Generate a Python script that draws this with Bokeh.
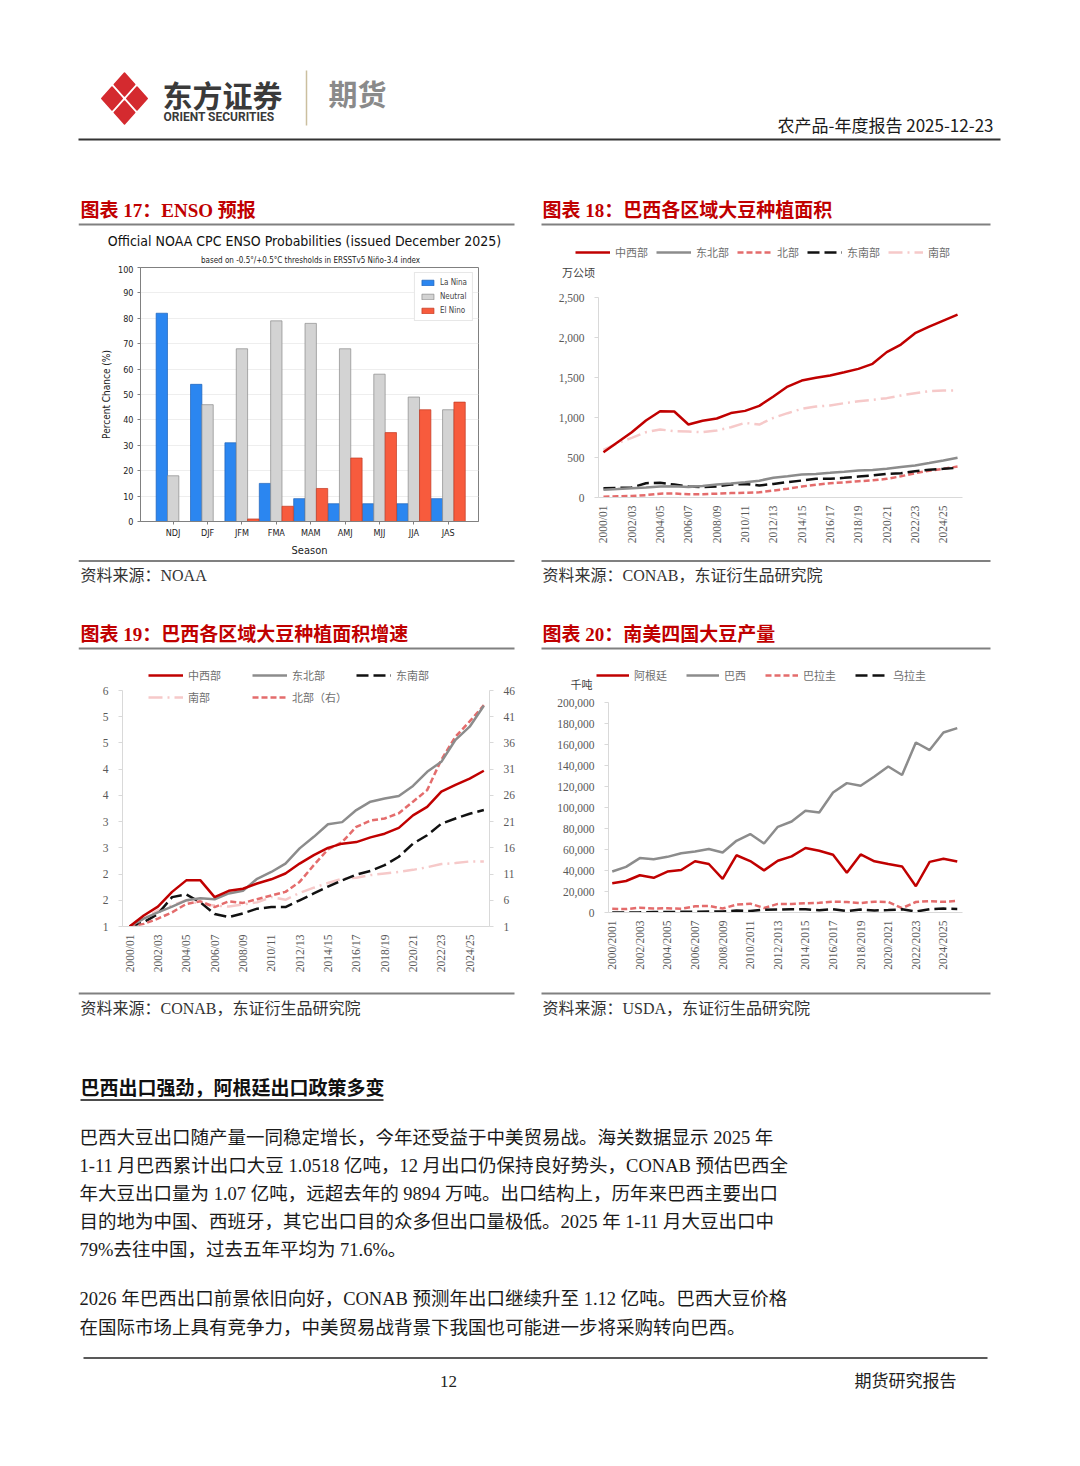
import math
import numpy as np
from bokeh.plotting import figure
from bokeh.models import (Range1d, FixedTicker, SingleIntervalTicker, NumeralTickFormatter,
                          Legend, LegendItem, LinearAxis, Spacer, ColumnDataSource)
from bokeh.layouts import column, row
from bokeh.core.properties import value
from bokeh.transform import dodge
from bokeh.embed import file_html
from bokeh.resources import INLINE

# ---------------- data ----------------
# Chart 17: ENSO probabilities
seasons = ["NDJ", "DJF", "JFM", "FMA", "MAM", "AMJ", "MJJ", "JJA", "JAS"]
la_nina = [82, 54, 31, 15, 9, 7, 7, 7, 9]
neutral = [18, 46, 68, 79, 78, 68, 58, 49, 44]
el_nino = [0, 0, 1, 6, 13, 25, 35, 44, 47]

# Chart 18 / 19: Brazil soybean area by region
crop_years = ["2000/01", "2001/02", "2002/03", "2003/04", "2004/05", "2005/06", "2006/07",
              "2007/08", "2008/09", "2009/10", "2010/11", "2011/12", "2012/13", "2013/14",
              "2014/15", "2015/16", "2016/17", "2017/18", "2018/19", "2019/20", "2020/21",
              "2021/22", "2022/23", "2023/24", "2024/25", "2025/26"]
area_cw = [566, 691, 816, 962, 1079, 1075, 912, 960, 987, 1055, 1083, 1145, 1262, 1387,
           1462, 1496, 1525, 1566, 1608, 1671, 1817, 1912, 2054, 2137, 2212, 2287]
area_ne = [96, 105, 115, 125, 137, 140, 132, 145, 162, 175, 192, 210, 246, 265,
           287, 295, 308, 322, 337, 345, 358, 380, 400, 430, 462, 496]
area_n = [10, 15, 20, 30, 48, 50, 40, 42, 48, 55, 60, 65, 87, 110,
          137, 160, 178, 190, 203, 215, 233, 265, 304, 335, 358, 387]
area_se = [116, 120, 125, 179, 183, 162, 137, 130, 137, 162, 170, 150, 170, 192,
           212, 233, 233, 246, 262, 275, 296, 304, 329, 346, 358, 371]
area_s = [596, 680, 746, 816, 850, 830, 825, 816, 837, 879, 933, 912, 996, 1054,
          1108, 1137, 1150, 1179, 1204, 1221, 1242, 1275, 1304, 1329, 1337, 1337]
area_ticks = [0, 500, 1000, 1500, 2000, 2500]

g_cw = [1.00, 1.21, 1.38, 1.66, 1.88, 1.88, 1.56, 1.68, 1.72, 1.82, 1.90, 2.01, 2.20, 2.36,
        2.50, 2.58, 2.61, 2.70, 2.77, 2.88, 3.12, 3.28, 3.57, 3.70, 3.82, 3.97]
g_ne = [1.00, 1.15, 1.27, 1.38, 1.50, 1.54, 1.52, 1.63, 1.68, 1.91, 2.04, 2.20, 2.49, 2.71,
        2.95, 2.99, 3.22, 3.38, 3.44, 3.49, 3.68, 3.95, 4.14, 4.56, 4.81, 5.21]
g_se = [1.00, 1.08, 1.24, 1.56, 1.61, 1.46, 1.24, 1.18, 1.25, 1.34, 1.37, 1.37, 1.50, 1.63,
        1.76, 1.88, 1.99, 2.06, 2.17, 2.33, 2.58, 2.74, 2.96, 3.06, 3.15, 3.22]
g_s = [1.00, 1.15, 1.31, 1.40, 1.50, 1.43, 1.40, 1.38, 1.42, 1.46, 1.56, 1.51, 1.64, 1.74,
       1.83, 1.91, 1.93, 1.98, 2.01, 2.04, 2.08, 2.13, 2.19, 2.21, 2.24, 2.24]
g_n = [1.0, 1.5, 2.5, 3.7, 5.3, 5.8, 4.7, 5.8, 5.5, 6.2, 6.9, 7.6, 9.5, 12.7,
       15.7, 17.1, 20.0, 21.2, 21.6, 22.6, 24.8, 27.0, 32.8, 37.2, 40.1, 43.2]
g_left_ticks = [1.0, 1.5, 2.0, 2.5, 3.0, 3.5, 4.0, 4.5, 5.0, 5.5]
g_left_labels = ["1", "2", "2", "3", "3", "4", "4", "5", "5", "6"]
g_right_ticks = [1, 6, 11, 16, 21, 26, 31, 36, 41, 46]

# Chart 20: South America soybean production (thousand t)
prod_years = ["2000/2001", "2001/2002", "2002/2003", "2003/2004", "2004/2005", "2005/2006",
              "2006/2007", "2007/2008", "2008/2009", "2009/2010", "2010/2011", "2011/2012",
              "2012/2013", "2013/2014", "2014/2015", "2015/2016", "2016/2017", "2017/2018",
              "2018/2019", "2019/2020", "2020/2021", "2021/2022", "2022/2023", "2023/2024",
              "2024/2025", "2025/2026"]
prod_arg = [27800, 30000, 35500, 33000, 39000, 40500, 48800, 46200, 32000, 54500, 49000, 40100,
            49300, 53400, 61400, 58800, 55000, 37800, 55300, 48800, 46200, 43900, 25000, 48200,
            51100, 48500]
prod_bra = [39000, 43500, 51800, 50800, 53000, 56500, 58100, 60400, 57100, 68300, 74700, 65700,
            81600, 86700, 96900, 95200, 114300, 123200, 120700, 129500, 139000, 130900, 161900,
            154700, 171400, 175600]
prod_par = [3500, 3300, 4500, 3900, 4000, 3600, 5900, 6300, 3800, 7500, 8400, 4300, 8200, 8200,
            8800, 9200, 10300, 10000, 9000, 10300, 10000, 4200, 10000, 10800, 10200, 11000]
prod_uru = [30, 70, 180, 470, 480, 630, 780, 930, 1000, 1800, 1500, 2700, 2800, 3200, 3100,
            2200, 3200, 1300, 2800, 2000, 2300, 3000, 900, 3200, 3700, 3300]

# ---------------- styles ----------------
SERIF = "'Liberation Serif', 'Noto Sans CJK SC', serif"
CJK = "'Noto Sans CJK SC', sans-serif"
NARROW = "'Liberation Sans Narrow', 'DejaVu Sans Condensed', 'Liberation Sans', sans-serif"
RED = "#C00000"
GRAY = "#8c8c8c"
PINK = "#E46C6C"
BLACK = "#111111"
LPINK = "#F6C9C9"
AXC = "#595959"
LEGC = "#6f6f6f"
STY = {
    "cw": dict(line_color=RED, line_width=2.5),
    "ne": dict(line_color=GRAY, line_width=2.5),
    "n": dict(line_color=PINK, line_width=2.5, line_dash="6 3"),
    "se": dict(line_color=BLACK, line_width=2.5, line_dash="12 5"),
    "s": dict(line_color=LPINK, line_width=2.5, line_dash="14 5 2 5"),
}


def deco(x0, x1, y0, y1):
    p = figure(width=x1 - x0, height=y1 - y0, x_range=Range1d(x0, x1), y_range=Range1d(y1, y0),
               x_axis_type=None, y_axis_type=None, output_backend="svg", toolbar_location=None,
               min_border_left=0, min_border_right=0, min_border_top=0, min_border_bottom=0)
    p.outline_line_color = None
    return p


def txt(p, x, y, s, size, color="#222222", font=CJK, style="normal", align="left"):
    p.text(x=[x], y=[y], text=[s], text_font=value(font), text_font_size=value(size),
           text_color=color, text_font_style=style, text_align=value(align),
           text_baseline=value("middle"))


def hline(p, x0, x1, y, w=1.5, color="#7f7f7f"):
    p.segment(x0=[x0], y0=[y], x1=[x1], y1=[y], line_width=w, line_color=color)


def legend(items, loc, gw, spacing, padding=2):
    return Legend(items=[LegendItem(label=lab, renderers=[r]) for lab, r in items],
                  orientation="horizontal", location=loc, glyph_width=gw, glyph_height=14,
                  label_standoff=5, spacing=spacing, padding=padding, margin=0,
                  border_line_color=None, background_fill_alpha=0, label_text_font=CJK,
                  label_text_font_size="11px", label_text_color=LEGC, label_height=14,
                  label_width=10)


def key(p, k):
    # invisible (NaN) line renderer used only as a legend key in a decoration strip
    return p.line(x=np.array([np.nan]), y=np.array([np.nan]), **STY[k])


# ---------------- header ----------------
header = deco(0, 1072, 0, 190)
cx, cy, ax, ay = 124.0, 98.0, 25.0, 28.0
T, R, B, L, C = (cx, cy - ay), (cx + ax, cy), (cx, cy + ay), (cx - ax, cy), (cx, cy)


def mid(a, b):
    return ((a[0] + b[0]) / 2, (a[1] + b[1]) / 2)


pieces = [[T, mid(T, R), C, mid(T, L)], [R, mid(R, B), C, mid(T, R)],
          [B, mid(B, L), C, mid(R, B)], [L, mid(T, L), C, mid(B, L)]]
lx, ly = [], []
for pc in pieces:
    pcx = sum(q[0] for q in pc) / 4
    pcy = sum(q[1] for q in pc) / 4
    lx.append([pcx + (q[0] - pcx) * 0.82 for q in pc])
    ly.append([pcy + (q[1] - pcy) * 0.82 for q in pc])
header.patches(xs=lx, ys=ly, fill_color="#D42A2F", line_color="#D42A2F", line_width=1.5,
               line_join="round")
txt(header, 162, 93, "东方证券", "30px", "#3a3a3a", CJK, "bold")
txt(header, 163, 116, "ORIENT SECURITIES", "12px", "#3a3a3a", "'Roboto', 'Noto Sans', sans-serif", "bold")
header.segment(x0=[306], y0=[70], x1=[306], y1=[125], line_color="#cbbf9f", line_width=1.5)
txt(header, 328, 92, "期货", "29px", "#8a8a8a", CJK, "bold")
txt(header, 993, 124, "农产品-年度报告 2025-12-23", "17px", "#1a1a1a", CJK, "normal", "right")
hline(header, 78, 1000, 139, 2.2, "#333333")

# ---------------- panel decorations ----------------
TSZ = "19px"
t17 = deco(78, 518, 190, 265)
txt(t17, 80, 210, "图表 17：ENSO 预报", TSZ, RED, SERIF, "bold")
hline(t17, 78, 514, 224, 1.8, "#808080")
txt(t17, 304, 240, "Official NOAA CPC ENSO Probabilities (issued December 2025)", "14px",
    "#111111", NARROW, "normal", "center")
txt(t17, 310, 260, "based on -0.5°/+0.5°C thresholds in ERSSTv5 Niño-3.4 index", "8px",
    "#222222", NARROW, "normal", "center")

t18 = deco(540, 1000, 190, 282)
txt(t18, 542, 210, "图表 18：巴西各区域大豆种植面积", TSZ, RED, SERIF, "bold")
hline(t18, 541, 990, 224, 1.8, "#808080")
t18.add_layout(legend([("中西部", key(t18, "cw")), ("东北部", key(t18, "ne")),
                       ("北部", key(t18, "n")), ("东南部", key(t18, "se")),
                       ("南部", key(t18, "s"))], (35, 22), 35, 8))
txt(t18, 578, 271, "万公顷", "11px", "#404040", CJK, "normal", "center")

s17 = deco(78, 518, 559, 590)
hline(s17, 78, 514, 560.5, 1.8, "#808080")
txt(s17, 80, 575, "资料来源：NOAA", "16px", "#333333", SERIF)

s18 = deco(540, 1000, 559, 590)
hline(s18, 541, 990, 560.5, 1.8, "#808080")
txt(s18, 542, 575, "资料来源：CONAB，东证衍生品研究院", "16px", "#333333", SERIF)

t19 = deco(78, 518, 590, 684)
txt(t19, 80, 634, "图表 19：巴西各区域大豆种植面积增速", TSZ, RED, SERIF, "bold")
hline(t19, 78, 514, 648, 1.8, "#808080")
t19.add_layout(legend([("中西部", key(t19, "cw")), ("东北部", key(t19, "ne")),
                       ("东南部", key(t19, "se"))], (70, 1), 35, 31, padding=0))

t20 = deco(540, 1000, 590, 692)
txt(t20, 542, 634, "图表 20：南美四国大豆产量", TSZ, RED, SERIF, "bold")
hline(t20, 541, 990, 648, 1.8, "#808080")
t20.add_layout(legend([("阿根廷", key(t20, "cw")), ("巴西", key(t20, "ne")),
                       ("巴拉圭", key(t20, "n")), ("乌拉圭", key(t20, "se"))], (56, 9), 33, 19))
txt(t20, 581, 683, "千吨", "11px", "#404040", CJK, "normal", "center")

s19 = deco(78, 518, 990, 1025)
hline(s19, 78, 514, 993, 1.8, "#808080")
txt(s19, 80, 1008, "资料来源：CONAB，东证衍生品研究院", "16px", "#333333", SERIF)

s20 = deco(540, 1000, 990, 1025)
hline(s20, 541, 990, 993, 1.8, "#808080")
txt(s20, 542, 1008, "资料来源：USDA，东证衍生品研究院", "16px", "#333333", SERIF)

# ---------------- chart 17 ----------------
p17 = figure(width=440, height=294, x_range=Range1d(-0.95, 8.88), y_range=Range1d(0, 100),
             output_backend="svg", toolbar_location=None,
             min_border_left=62, min_border_right=40, min_border_top=2, min_border_bottom=34)
src17 = ColumnDataSource(dict(x=list(range(len(seasons))), la=la_nina, ne=neutral, el=el_nino))
r_la = p17.vbar(x=dodge("x", -0.33), top="la", width=0.33, source=src17,
                fill_color="#2B86F0", line_color="#1c62b8", line_width=0.7)
r_ne = p17.vbar(x=dodge("x", 0.0), top="ne", width=0.33, source=src17,
                fill_color="#D3D3D3", line_color="#8a8a8a", line_width=0.7)
r_el = p17.vbar(x=dodge("x", 0.33), top="el", width=0.33, source=src17,
                fill_color="#F75B3D", line_color="#c23a22", line_width=0.7)
leg17 = Legend(items=[LegendItem(label="La Nina", renderers=[r_la]),
                      LegendItem(label="Neutral", renderers=[r_ne]),
                      LegendItem(label="El Nino", renderers=[r_el])],
               location="top_right", glyph_width=15, glyph_height=7, label_text_font_size="8px",
               label_text_font=NARROW, label_height=9, spacing=5, padding=5, margin=5,
               border_line_color="#d0d0d0", label_standoff=5)
p17.add_layout(leg17)
p17.xgrid.visible = False
p17.ygrid.grid_line_color = "#eeeeee"
p17.outline_line_color = "#808080"
p17.yaxis.ticker = SingleIntervalTicker(interval=10)
p17.xaxis.ticker = FixedTicker(ticks=list(range(len(seasons))))
p17.xaxis.major_label_overrides = {i: s for i, s in enumerate(seasons)}
p17.yaxis.axis_label = "Percent Chance (%)"
p17.xaxis.axis_label = "Season"
for ax_ in (p17.xaxis[0], p17.yaxis[0]):
    ax_.axis_line_color = "#808080"
    ax_.major_tick_line_color = "#808080"
    ax_.major_tick_out = 3
    ax_.major_tick_in = 0
    ax_.minor_tick_line_color = None
    ax_.major_label_text_font = NARROW
    ax_.major_label_text_font_size = "9px"
    ax_.major_label_text_color = "#222222"
    ax_.axis_label_text_font = NARROW
    ax_.axis_label_text_font_style = "normal"
    ax_.axis_label_text_color = "#222222"
    ax_.major_label_standoff = 3
    ax_.axis_label_standoff = 3
p17.xaxis.axis_label_text_font_size = "11px"
p17.yaxis.axis_label_text_font_size = "10px"


def style_line_axes(p, xlabels):
    p.xgrid.visible = False
    p.ygrid.visible = False
    p.outline_line_color = None
    p.xaxis.ticker = FixedTicker(ticks=list(range(0, len(xlabels), 2)))
    p.xaxis.major_label_overrides = {i: s for i, s in enumerate(xlabels)}
    p.xaxis.major_label_orientation = math.pi / 2
    for a in p.xaxis + p.yaxis:
        a.axis_line_color = "#d9d9d9"
        a.major_tick_line_color = "#d9d9d9"
        a.major_tick_in = 0
        a.major_tick_out = 4
        a.minor_tick_line_color = None
        a.major_label_text_font = SERIF
        a.major_label_text_font_size = "11.5px"
        a.major_label_text_color = AXC
    p.xaxis.major_tick_out = 0
    p.xaxis.major_label_standoff = 8
    p.yaxis.major_label_standoff = 10


# ---------------- chart 18 ----------------
xi = list(range(len(crop_years)))
p18 = figure(width=460, height=277, x_range=Range1d(-0.35, 25.35), y_range=Range1d(0, 2500),
             output_backend="svg", toolbar_location=None,
             min_border_left=58, min_border_right=38, min_border_top=15, min_border_bottom=62)
style_line_axes(p18, crop_years)
p18.yaxis.ticker = FixedTicker(ticks=area_ticks)
p18.yaxis.formatter = NumeralTickFormatter(format="0,0")
p18.line(xi, area_s, **STY["s"])
p18.line(xi, area_n, **STY["n"])
p18.line(xi, area_se, **STY["se"])
p18.line(xi, area_ne, **STY["ne"])
p18.line(xi, area_cw, **STY["cw"])

# ---------------- chart 19 ----------------
p19 = figure(width=440, height=306, x_range=Range1d(-0.5, 25.4), y_range=Range1d(1, 5.5),
             output_backend="svg", toolbar_location=None,
             min_border_left=44, min_border_right=27, min_border_top=6, min_border_bottom=64)
p19.extra_y_ranges = {"right": Range1d(1, 46)}
rax = LinearAxis(y_range_name="right", ticker=FixedTicker(ticks=g_right_ticks))
p19.add_layout(rax, "right")
style_line_axes(p19, crop_years)
p19.yaxis[0].ticker = FixedTicker(ticks=g_left_ticks)
p19.yaxis[0].major_label_overrides = {t: s for t, s in zip(g_left_ticks, g_left_labels)}
r19_s = p19.line(xi, g_s, **STY["s"])
p19.line(xi, g_se, **STY["se"])
r19_n = p19.line(xi, g_n, y_range_name="right", **STY["n"])
p19.line(xi, g_ne, **STY["ne"])
p19.line(xi, g_cw, **STY["cw"])
p19.add_layout(legend([("南部", r19_s), ("北部（右）", r19_n)], (26, 221), 35, 42, padding=0))

# ---------------- chart 20 ----------------
p20 = figure(width=460, height=298, x_range=Range1d(-0.27, 25.38), y_range=Range1d(0, 200000),
             output_backend="svg", toolbar_location=None,
             min_border_left=68, min_border_right=38, min_border_top=10, min_border_bottom=78)
style_line_axes(p20, prod_years)
p20.yaxis.ticker = SingleIntervalTicker(interval=20000)
p20.yaxis.formatter = NumeralTickFormatter(format="0,0")
p20.line(xi, prod_par, **STY["n"])
p20.line(xi, prod_uru, **STY["se"])
p20.line(xi, prod_bra, **STY["ne"])
p20.line(xi, prod_arg, **STY["cw"])

# ---------------- body text ----------------
body = deco(0, 1072, 1025, 1410)
txt(body, 80, 1088, "巴西出口强劲，阿根廷出口政策多变", "19px", "#111111", SERIF, "bold")
hline(body, 80, 383, 1099.5, 1.3, "#111111")
para = [
    (1137, "巴西大豆出口随产量一同稳定增长，今年还受益于中美贸易战。海关数据显示 2025 年"),
    (1165, "1-11 月巴西累计出口大豆 1.0518 亿吨，12 月出口仍保持良好势头，CONAB 预估巴西全"),
    (1193, "年大豆出口量为 1.07 亿吨，远超去年的 9894 万吨。出口结构上，历年来巴西主要出口"),
    (1221, "目的地为中国、西班牙，其它出口目的众多但出口量极低。2025 年 1-11 月大豆出口中"),
    (1249, "79%去往中国，过去五年平均为 71.6%。"),
    (1298, "2026 年巴西出口前景依旧向好，CONAB 预测年出口继续升至 1.12 亿吨。巴西大豆价格"),
    (1327, "在国际市场上具有竞争力，中美贸易战背景下我国也可能进一步将采购转向巴西。"),
]
for yy, s in para:
    txt(body, 79, yy, s, "18.5px", "#1a1a1a", SERIF)
hline(body, 83, 987, 1357.5, 1.5, "#222222")
txt(body, 448, 1381, "12", "17px", "#222222", SERIF, "normal", "center")
txt(body, 905, 1381, "期货研究报告", "17px", "#222222", SERIF, "normal", "center")

# ---------------- layout ----------------
def stack(*figs):
    return column(*[row(f) for f in figs])


panel17 = stack(t17, p17, s17)
panel18 = stack(t18, p18, s18)
panel19 = stack(t19, p19, s19)
panel20 = stack(t20, p20, s20)
row1 = row(Spacer(width=78, height=400), panel17, Spacer(width=22, height=400), panel18)
row2 = row(Spacer(width=78, height=435), panel19, Spacer(width=22, height=435), panel20)
page = column(header, row1, row2, body)

open("out.html", "w").write(file_html(page, INLINE))
